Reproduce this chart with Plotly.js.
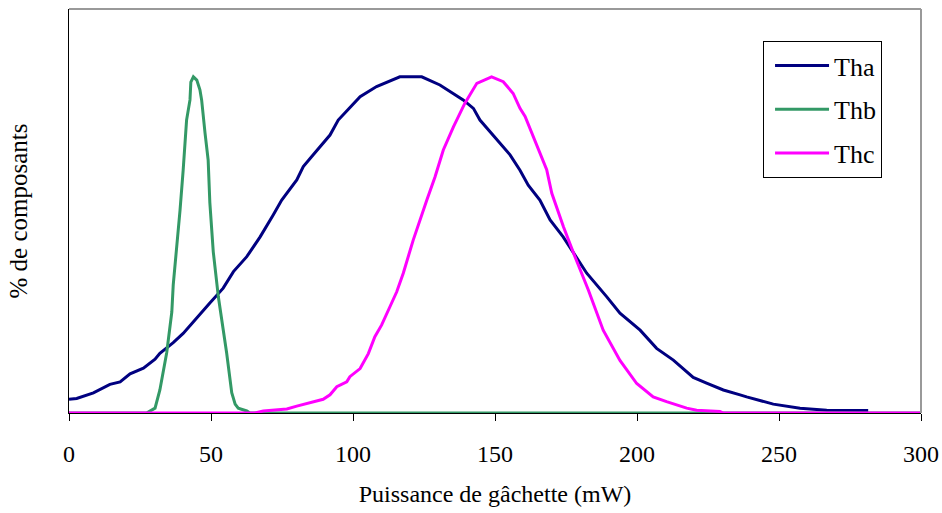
<!DOCTYPE html>
<html>
<head>
<meta charset="utf-8">
<script src="https://cdn.plot.ly/plotly-3.0.1.min.js"></script>
<style>
  html, body { margin: 0; padding: 0; background: #fff; }
  #chart { width: 942px; height: 513px; }
</style>
</head>
<body>
<div id="chart"></div>
<script>
// Series names
const seriesNames = ["Tha", "Thb", "Thc"];

// Tha : puissance (mW) and % de composants (arbitrary units)
const thaX = [0, 2.7, 8.6, 14.4, 18.0, 21.5, 26.2, 30.3, 32.0, 36.7, 40.2, 45.0, 49.6, 54.3, 57.9, 62.6, 67.3, 71.9, 74.9, 80.2, 82.5, 86.0, 91.9, 94.8, 102.5, 108.3, 116.5, 124.2, 130.6, 138.8, 142.4, 144.7, 148.2, 155.3, 158.8, 161.7, 165.8, 169.4, 174.0, 177.0, 182.3, 189.3, 194.0, 201.1, 206.9, 212.8, 219.8, 224.5, 230.4, 236.3, 238.6, 248.0, 257.4, 266.8, 281.4];
const thaY = [0.34, 0.36, 0.50, 0.71, 0.77, 0.97, 1.11, 1.33, 1.48, 1.74, 1.97, 2.34, 2.72, 3.09, 3.50, 3.87, 4.36, 4.90, 5.27, 5.77, 6.10, 6.39, 6.88, 7.25, 7.83, 8.08, 8.32, 8.32, 8.12, 7.75, 7.54, 7.25, 6.96, 6.39, 6.01, 5.64, 5.27, 4.78, 4.36, 4.03, 3.46, 2.88, 2.47, 2.05, 1.60, 1.31, 0.88, 0.74, 0.57, 0.45, 0.40, 0.22, 0.12, 0.07, 0.06];

// Thb
const thbX = [0, 27.3, 30.3, 32.0, 34.4, 36.2, 36.7, 37.9, 39.1, 40.2, 41.4, 42.6, 42.9, 43.8, 45.0, 46.1, 46.7, 47.9, 49.0, 49.6, 50.8, 52.6, 53.8, 55.5, 57.3, 58.5, 59.6, 62.6, 63.7, 300];
const thbY = [0, 0, 0.12, 0.57, 1.49, 2.50, 3.17, 4.03, 5.02, 6.01, 7.25, 7.75, 8.19, 8.32, 8.24, 8.00, 7.75, 6.93, 6.26, 5.20, 3.99, 2.87, 2.30, 1.49, 0.50, 0.22, 0.12, 0.05, 0, 0];

// Thc
const thcX = [0, 65.5, 68.4, 76.7, 80.2, 83.7, 89.5, 91.9, 94.3, 97.8, 98.9, 102.5, 105.4, 107.7, 110.1, 113.0, 115.4, 117.7, 120.1, 121.2, 126.0, 128.9, 131.8, 135.4, 139.4, 143.6, 148.8, 152.9, 156.4, 158.8, 160.6, 164.1, 168.2, 170.0, 174.1, 178.2, 182.9, 188.1, 194.0, 199.9, 205.7, 210.4, 217.5, 221.0, 229.2, 230.4, 300];
const thcY = [0, 0, 0.05, 0.10, 0.17, 0.24, 0.34, 0.45, 0.65, 0.77, 0.90, 1.10, 1.47, 1.89, 2.18, 2.63, 3.00, 3.46, 4.03, 4.28, 5.27, 5.85, 6.51, 7.09, 7.67, 8.16, 8.32, 8.20, 7.91, 7.54, 7.34, 6.72, 6.02, 5.44, 4.61, 3.86, 3.04, 2.05, 1.30, 0.73, 0.40, 0.28, 0.12, 0.07, 0.04, 0, 0];

const xTicks = [0, 50, 100, 150, 200, 250, 300];
const colors = ["#000080", "#339966", "#FF00FF"];

const xs = [thaX, thbX, thcX];
const ys = [thaY, thbY, thcY];

const FONT = "Liberation Serif, Times New Roman, serif";

const traces = seriesNames.map((n, i) => ({
  type: "scatter",
  mode: "lines",
  name: n,
  legendgroup: n,
  x: xs[i],
  y: ys[i],
  line: { color: colors[i], width: 3 },
  hoverinfo: "x+y+name"
}));

const layout = {
  width: 942,
  height: 513,
  margin: { l: 69, r: 21, t: 9, b: 100, pad: 0 },
  paper_bgcolor: "#ffffff",
  plot_bgcolor: "#ffffff",
  font: { family: FONT, size: 24, color: "#000" },
  showlegend: true,
  legend: {
    x: 0.8146, y: 0.9208, xanchor: "left", yanchor: "top",
    bgcolor: "#ffffff", bordercolor: "#000", borderwidth: 1,
    font: { family: FONT, size: 26, color: "#000" },
    tracegroupgap: 7,
    itemwidth: 54,
    indentation: 6
  },
  xaxis: {
    range: [0, 300],
    tickvals: xTicks,
    ticktext: xTicks.map(String),
    ticks: "outside", ticklen: 7, tickwidth: 1, tickcolor: "#000",
    ticklabelstandoff: 12,
    showline: true, linecolor: "#000", linewidth: 1,
    showgrid: false, zeroline: false,
    tickfont: { family: FONT, size: 24, color: "#000" },
    title: { text: "Puissance de gâchette (mW)", font: { family: FONT, size: 24, color: "#000" }, standoff: 19 },
    automargin: false
  },
  yaxis: {
    range: [0, 10],
    showticklabels: false, ticks: "",
    showline: true, linecolor: "#000", linewidth: 1,
    showgrid: false, zeroline: false,
    title: { text: "% de composants", font: { family: FONT, size: 25, color: "#000" }, standoff: 33 },
    automargin: false
  },
  shapes: [
    { type: "line", xref: "paper", yref: "paper", x0: 0, x1: 1, y0: 1, y1: 1, line: { color: "#999999", width: 2 } },
    { type: "line", xref: "paper", yref: "paper", x0: 1, x1: 1, y0: 0, y1: 1, line: { color: "#999999", width: 2 } }
  ]
};

Plotly.newPlot("chart", traces, layout, { displayModeBar: false, staticPlot: false });
</script>
</body>
</html>
